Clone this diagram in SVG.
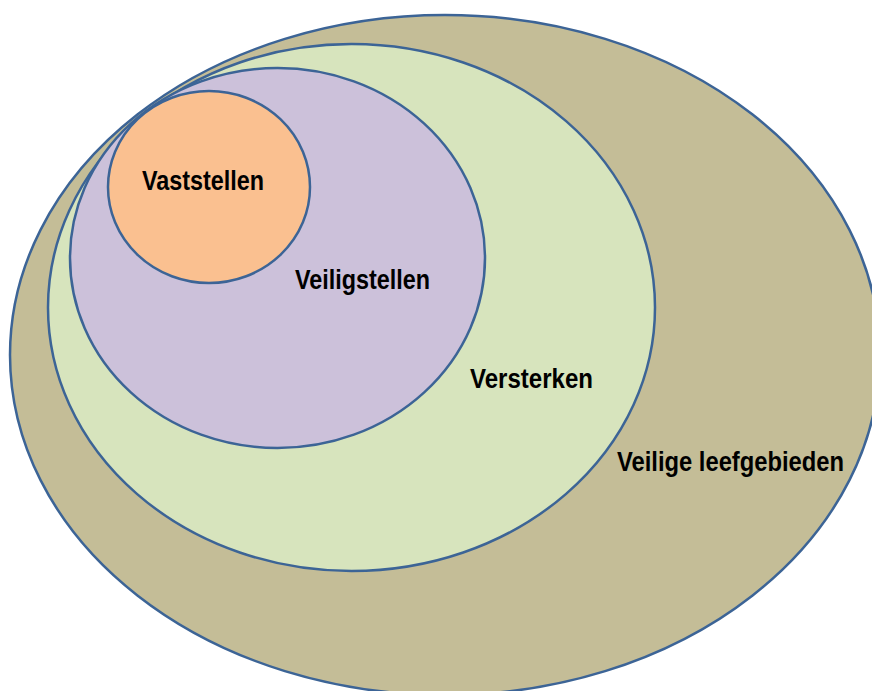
<svg xmlns="http://www.w3.org/2000/svg" width="872" height="691" viewBox="0 0 872 691">
<style>
.e{stroke:#3c6496;stroke-width:2.5}
.t{font-family:"Liberation Sans Narrow","Liberation Sans",sans-serif;font-weight:bold;font-size:27px;fill:#000}
</style>
<rect width="872" height="691" fill="#fff"/>
<g id="veilige-leefgebieden">
<ellipse class="e" cx="445" cy="355" rx="435" ry="340" fill="#c4bd97"/>
<text class="t" x="617" y="471" textLength="227" lengthAdjust="spacingAndGlyphs">Veilige leefgebieden</text>
</g>
<g id="versterken">
<ellipse class="e" cx="351.5" cy="307.5" rx="303.5" ry="263.5" fill="#d7e4bd"/>
<text class="t" x="470" y="388" textLength="123" lengthAdjust="spacingAndGlyphs">Versterken</text>
</g>
<g id="veiligstellen">
<ellipse class="e" cx="277.5" cy="258" rx="207.5" ry="190" fill="#ccc1da"/>
<text class="t" x="295" y="289" textLength="135" lengthAdjust="spacingAndGlyphs">Veiligstellen</text>
</g>
<g id="vaststellen">
<ellipse class="e" cx="209" cy="187" rx="101" ry="96" fill="#fac090"/>
<text class="t" x="142" y="190" textLength="122" lengthAdjust="spacingAndGlyphs">Vaststellen</text>
</g>
<g id="connectors"/>
</svg>
